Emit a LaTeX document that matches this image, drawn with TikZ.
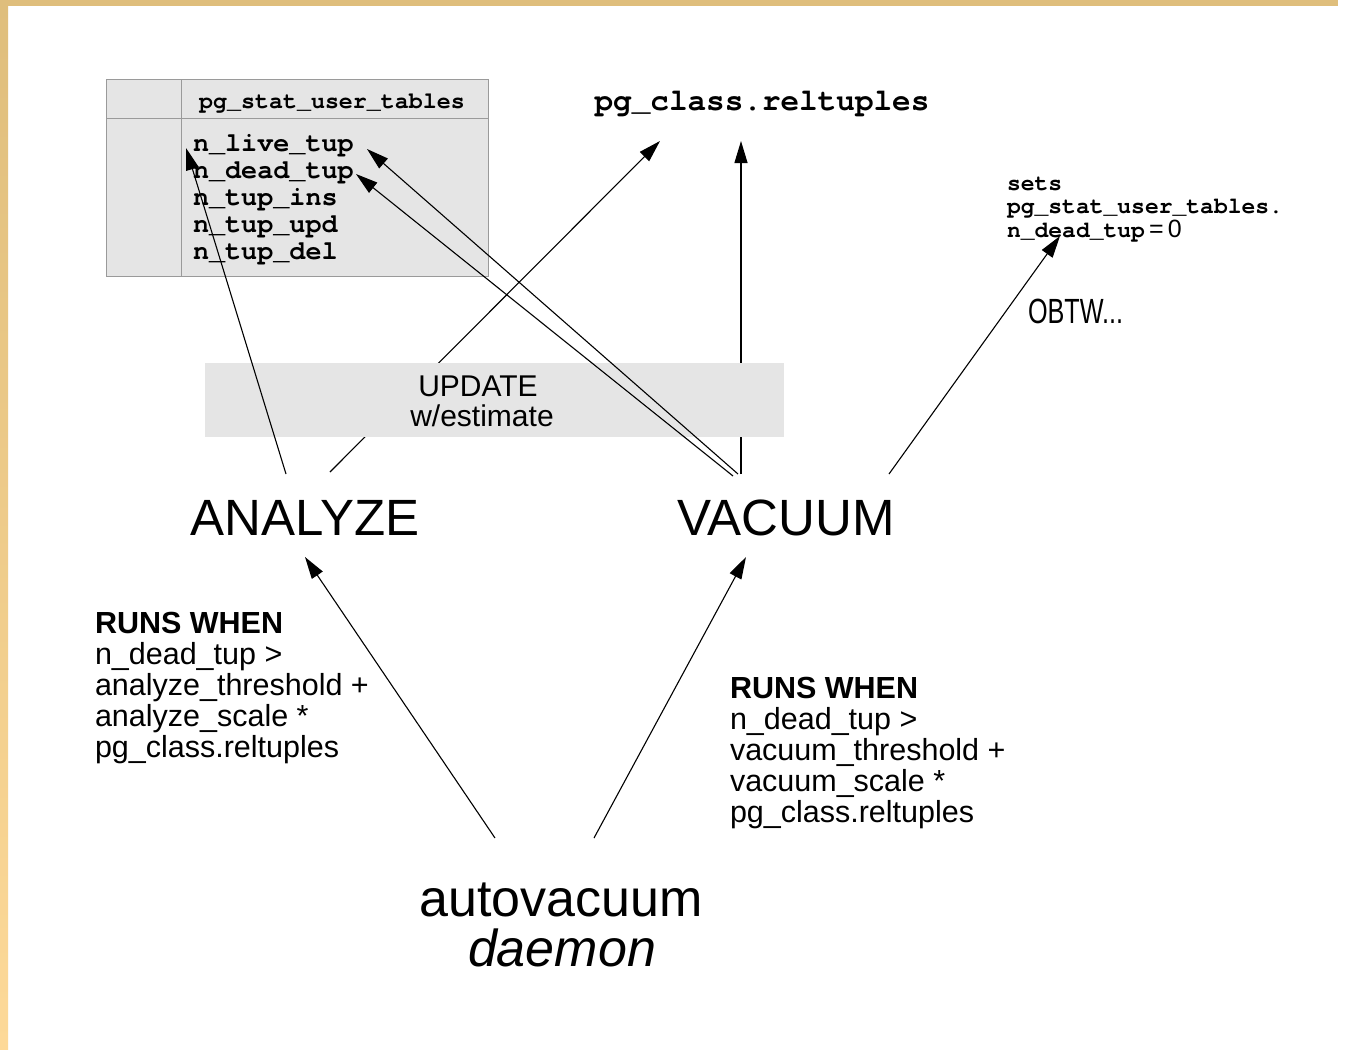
\documentclass[tikz,border=0pt]{standalone}
\usepackage{fontspec}
\usepackage{graphicx}
\setmainfont{Liberation Sans}
\setmonofont{texgyrecursor}[Extension=.otf, UprightFont=*-regular, BoldFont=*-bold]
\usetikzlibrary{arrows.meta}
\definecolor{tanTop}{HTML}{DFBE7C}
\definecolor{tanBot}{HTML}{FDD998}
\definecolor{panel}{HTML}{E5E5E5}
\definecolor{rulegray}{HTML}{9A9A9A}
\begin{document}
\begin{tikzpicture}[x=1pt,y=-1pt,
  arr/.style={draw=black, line width=1.1pt, -{Triangle[length=22pt,width=13pt]}},
  plain/.style={inner sep=0pt, outer sep=0pt},
  monohead/.style={plain, font=\ttfamily\bfseries\fontsize{23.3}{27}\selectfont},
  monorow/.style={plain, anchor=base west, font=\ttfamily\bfseries\fontsize{26.8}{27}\selectfont},
  monobig/.style={plain, font=\ttfamily\bfseries\fontsize{31}{31}\selectfont},
  monosmall/.style={plain, anchor=base west, font=\ttfamily\bfseries\fontsize{23}{24}\selectfont},
  bandtext/.style={plain, anchor=base, font=\fontsize{30}{30}\selectfont},
  bigword/.style={plain, anchor=base, font=\fontsize{51}{51}\selectfont},
  condtext/.style={plain, anchor=base west, align=left, font=\fontsize{30.5}{30.8}\selectfont}]
\useasboundingbox (0,0) rectangle (1345,1050);
\fill[white] (0,0) rectangle (1345,1050);
\shade[top color=tanTop, bottom color=tanBot] (0,0) rectangle (8,1050);
\fill[tanTop] (0,0) rectangle (1338,6);

% table
\node[plain, draw=rulegray, fill=panel, line width=1pt, minimum width=382pt, minimum height=197pt] (tbl) at (297,177.5) {};
\draw[rulegray, line width=1pt] (tbl.west |- 0,118) -- (tbl.east |- 0,118);
\draw[rulegray, line width=1pt] (181,0 |- tbl.north) -- (181,0 |- tbl.south);
\node[monohead, anchor=base] (hdr) at (332,108) {pg\_stat\_user\_tables};
\node[monorow] (r1) at (193,151) {n\_live\_tup};
\node[monorow] (r2) at (193,178) {n\_dead\_tup};
\node[monorow] (r3) at (193,205) {n\_tup\_ins};
\node[monorow] (r4) at (193,232) {n\_tup\_upd};
\node[monorow] (r5) at (193,259) {n\_tup\_del};

\node[monobig, anchor=base] (reltuples) at (762,110) {pg\_class.reltuples};

% arrow end points
\coordinate (anA) at (286,474);
\coordinate (anB) at (330,472);
\coordinate (vaA) at (738,474);
\coordinate (vaB) at (733,476);
\coordinate (vaC) at (741,474);
\coordinate (vaD) at (889,474);
\coordinate (tLive) at (186,148);
\coordinate (tLive2) at (367,149);
\coordinate (tDead) at (356,174);
\coordinate (tRel1) at (660,141);
\coordinate (tRel2) at (741,141);
\coordinate (tSets) at (1060,236);
\coordinate (auA) at (495,838);
\coordinate (auB) at (594,838);
\coordinate (tAn) at (305,557);
\coordinate (tVa) at (746,557);

% arrows hidden behind the band
\draw[arr] (anB) -- (tRel1);
\draw[arr] (vaC) -- (tRel2);

% band
\node[plain, fill=panel, minimum width=579pt, minimum height=74pt] (band) at (494.5,400) {};
\node[bandtext] (upd) at (478,396) {UPDATE};
\node[bandtext] (west) at (482,426) {w/estimate};

% other arrows
\draw[arr] (anA) -- (tLive);
\draw[arr] (vaA) -- (tLive2);
\draw[arr] (vaB) -- (tDead);
\draw[arr] (vaD) -- (tSets);
\draw[arr] (auA) -- (tAn);
\draw[arr] (auB) -- (tVa);

% sets text
\node[monosmall] (s1) at (1007,190) {sets};
\node[monosmall] (s2) at (1007,213) {pg\_stat\_user\_tables.};
\node[monosmall] (s3) at (1007,237) {n\_dead\_tup{\rmfamily\mdseries\fontsize{25}{25}\selectfont\,=\,0}};
\node[plain, anchor=base west, font=\fontsize{35}{35}\selectfont] (obtw) at (1028,323) {\scalebox{0.72}[1]{OBTW...}};

\node[bigword] (analyze) at (305,535) {ANALYZE};
\node[bigword] (vacuum) at (786,535) {VACUUM};

\node[condtext] (condA) at (95,757) {\textbf{RUNS WHEN}\\n\_dead\_tup >\\analyze\_threshold +\\analyze\_scale *\\pg\_class.reltuples};
\node[condtext] (condV) at (730,822) {\textbf{RUNS WHEN}\\n\_dead\_tup >\\vacuum\_threshold +\\vacuum\_scale *\\pg\_class.reltuples};

\node[plain, anchor=base, font=\fontsize{52}{52}\selectfont] (auto) at (561,916) {autovacuum};
\node[plain, anchor=base, font=\itshape\fontsize{52}{52}\selectfont] (daemon) at (562,966) {daemon};
\end{tikzpicture}
\end{document}
